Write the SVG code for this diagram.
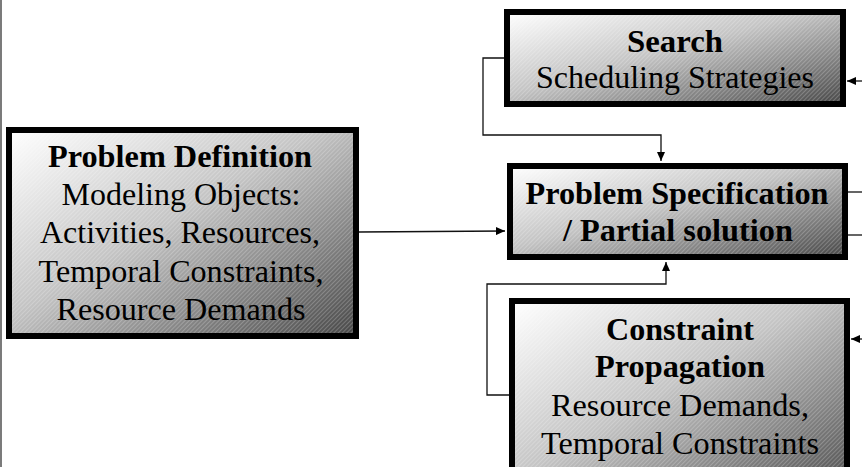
<svg xmlns="http://www.w3.org/2000/svg" width="862" height="467" viewBox="0 0 862 467">
<style>
.box{stroke:#000;stroke-width:6}
.hatch{stroke:none}
.t{font-family:"Liberation Serif","Times New Roman",Times,serif;font-size:31px;fill:#000;text-anchor:middle}
.b{font-weight:bold}
.c{fill:none;stroke:#111;stroke-width:1.3}
</style>
<defs>
<linearGradient id="g" x1="0" y1="0" x2="1" y2="1">
<stop offset="0" stop-color="#ffffff"/>
<stop offset="0.45" stop-color="#c4c4c4"/>
<stop offset="1" stop-color="#474747"/>
</linearGradient>
<pattern id="h" width="3" height="3" patternUnits="userSpaceOnUse" patternTransform="rotate(-45)">
<rect x="0" y="0" width="3" height="1" fill="#ffffff" fill-opacity="0.22"/>
</pattern>
<marker id="a" markerWidth="9" markerHeight="8" refX="9" refY="4" orient="auto" markerUnits="userSpaceOnUse">
<path d="M0,0 L9,4 L0,8 z" fill="#000"/>
</marker>
</defs>
<line x1="1" y1="0" x2="1" y2="467" stroke="#333" stroke-width="1.3"/>
<g id="connectors">
<path class="c" d="M504,58 H483 V135 H661 V161" marker-end="url(#a)"/>
<path class="c" d="M509,395 H487 V284 H666 V262" marker-end="url(#a)"/>
<path class="c" d="M359,232 L505,231" marker-end="url(#a)"/>
<path class="c" d="M862,81 H847" marker-end="url(#a)"/>
<path class="c" d="M848,192 H862"/>
<path class="c" d="M848,235 H862"/>
<path class="c" d="M862,339 H851" marker-end="url(#a)"/>
</g>
<g id="search">
<rect class="box" x="507" y="12" width="336" height="92" fill="url(#g)"/>
<rect class="hatch" x="510" y="15" width="330" height="86" fill="url(#h)"/>
<text class="t b" x="675" y="52" textLength="96" lengthAdjust="spacingAndGlyphs">Search</text>
<text class="t" x="675" y="88" textLength="278" lengthAdjust="spacingAndGlyphs">Scheduling Strategies</text>
</g>
<g id="spec">
<rect class="box" x="510" y="166" width="335" height="91" fill="url(#g)"/>
<rect class="hatch" x="513" y="169" width="329" height="85" fill="url(#h)"/>
<text class="t b" x="677" y="204" textLength="303" lengthAdjust="spacingAndGlyphs">Problem Specification</text>
<text class="t b" x="678" y="241" textLength="230" lengthAdjust="spacingAndGlyphs">/ Partial solution</text>
</g>
<g id="constraint">
<rect class="box" x="512" y="301" width="335" height="200" fill="url(#g)"/>
<rect class="hatch" x="515" y="304" width="329" height="194" fill="url(#h)"/>
<text class="t b" x="680" y="340" textLength="148" lengthAdjust="spacingAndGlyphs">Constraint</text>
<text class="t b" x="680" y="377" textLength="170" lengthAdjust="spacingAndGlyphs">Propagation</text>
<text class="t" x="680" y="416" textLength="258" lengthAdjust="spacingAndGlyphs">Resource Demands,</text>
<text class="t" x="680" y="454" textLength="278" lengthAdjust="spacingAndGlyphs">Temporal Constraints</text>
</g>
<g id="definition">
<rect class="box" x="9" y="130" width="347" height="206" fill="url(#g)"/>
<rect class="hatch" x="12" y="133" width="341" height="200" fill="url(#h)"/>
<text class="t b" x="180" y="167" textLength="264" lengthAdjust="spacingAndGlyphs">Problem Definition</text>
<text class="t" x="181" y="205" textLength="239" lengthAdjust="spacingAndGlyphs">Modeling Objects:</text>
<text class="t" x="180" y="243" textLength="280" lengthAdjust="spacingAndGlyphs">Activities, Resources,</text>
<text class="t" x="181" y="282" textLength="285" lengthAdjust="spacingAndGlyphs">Temporal Constraints,</text>
<text class="t" x="181" y="320" textLength="249" lengthAdjust="spacingAndGlyphs">Resource Demands</text>
</g>
</svg>
